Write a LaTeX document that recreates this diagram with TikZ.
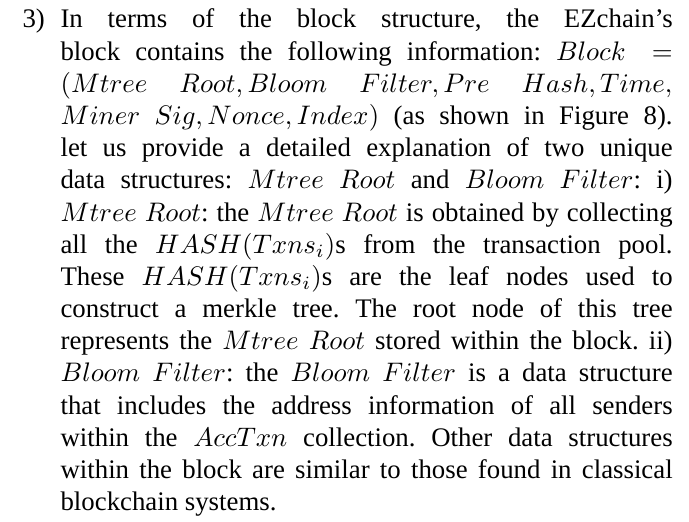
\documentclass[tikz,border=0pt]{standalone}
\usepackage[no-math]{fontspec}
\setmainfont{Liberation Serif}
\usepackage{tikz}
\frenchspacing
\tikzset{
	para/.style={%Paragraph format configuration
		text width=242.5pt,
		align=justify,
		inner sep=0pt,
		font=\fontsize{10pt}{12pt}\selectfont
	}
}
\newcommand{\itemhang}[1]{\hangindent=14.2pt\hangafter=1\makebox[14.2pt][l]{#1}}
\begin{document}
\begin{tikzpicture}
	\useasboundingbox[fill=white] (0,0) rectangle (257pt,-194.4pt);
	\node [para, anchor=north west] (item) at (8.2pt,-3.2pt) {\itemhang{3)}In terms of the block structure, the EZchain's\linebreak
		block contains the following information: $Block =$\linebreak
		$(Mtree\ Root, Bloom\ Filter, Pre\ Hash, Time,$\linebreak
		$Miner\ Sig, Nonce, Index)$ (as shown in Figure 8).\linebreak
		let us provide a detailed explanation of two unique\linebreak
		data structures: $Mtree\ Root$ and $Bloom\ Filter$: i)\linebreak
		$Mtree\ Root$: the $Mtree\ Root$ is obtained by collecting\linebreak
		all the $HASH(Txns_i)$s from the transaction pool.\linebreak
		These $HASH(Txns_i)$s are the leaf nodes used to\linebreak
		construct a merkle tree. The root node of this tree\linebreak
		represents the $Mtree\ Root$ stored within the block. ii)\linebreak
		$Bloom\ Filter$: the $Bloom\ Filter$ is a data structure\linebreak
		that includes the address information of all senders\linebreak
		within the $AccTxn$ collection. Other data structures\linebreak
		within the block are similar to those found in classical\linebreak
		blockchain systems.\par};
\end{tikzpicture}
\end{document}
